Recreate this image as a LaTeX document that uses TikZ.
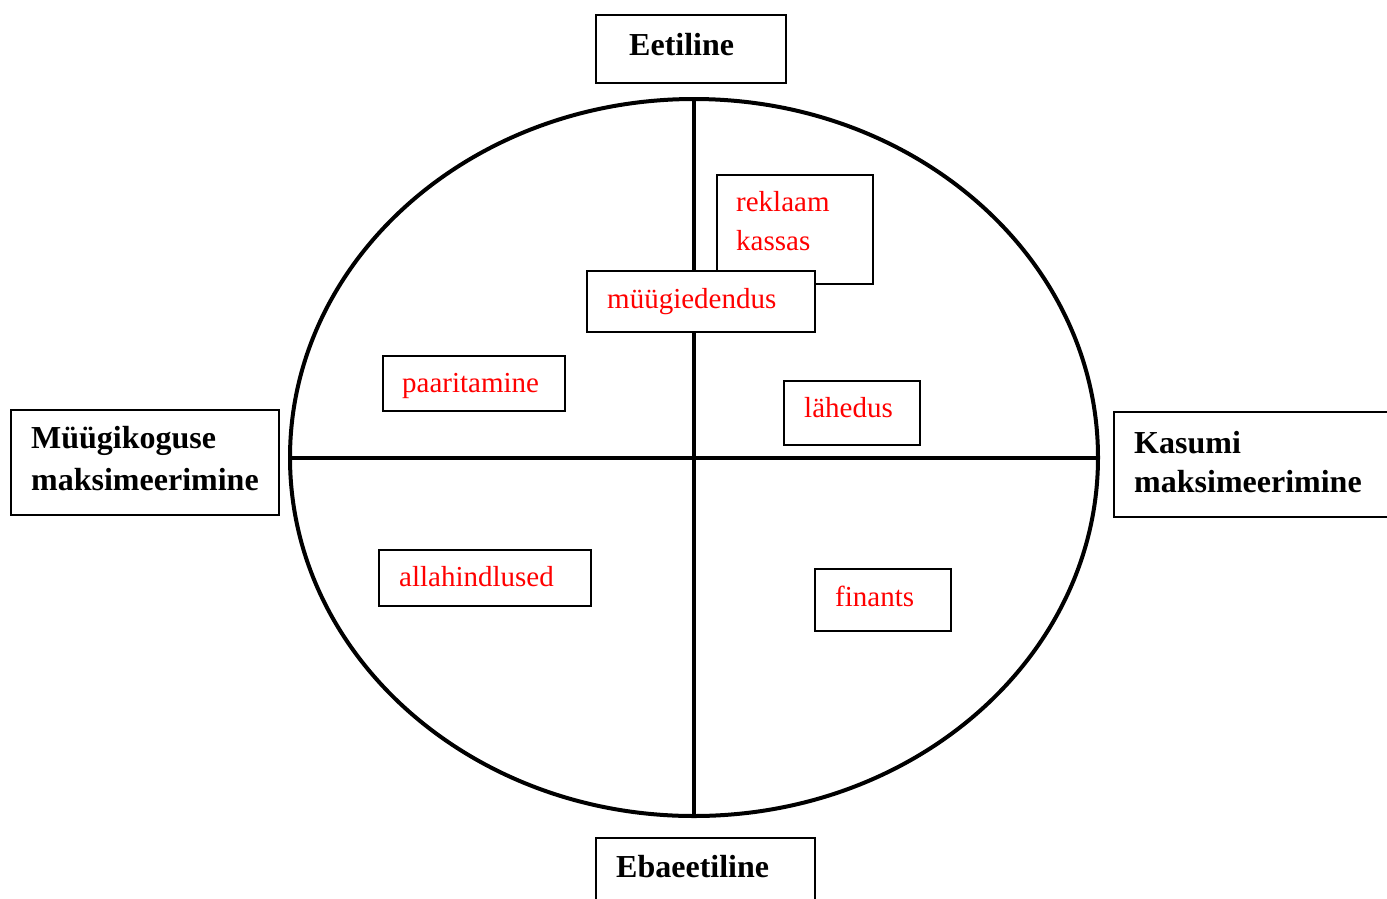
\documentclass[tikz,border=0pt]{standalone}
\usepackage{fontspec}
\setmainfont{Liberation Serif}
\usetikzlibrary{shapes.geometric}
\begin{document}
\begin{tikzpicture}[x=1pt,y=-1pt,
  heavy/.style={line width=4pt},
  box/.style={draw, line width=1.8pt, fill=white, inner sep=0pt, anchor=north west},
  btxt/.style={inner sep=0pt, anchor=base west, font=\fontsize{32}{41}\selectfont\bfseries},
  rtxt/.style={inner sep=0pt, anchor=base west, text=red, font=\fontsize{29}{38}\selectfont}]
\useasboundingbox (0,0) rectangle (1387,898);
\clip (0,0) rectangle (1387,898);
% circle and cross
\node[heavy, draw, ellipse, minimum width=808pt, minimum height=717pt, inner sep=0pt] (oval) at (694,457.5) {};
\coordinate (top) at (694,99);
\coordinate (bot) at (694,816);
\coordinate (lft) at (290,458);
\coordinate (rgt) at (1098,458);
\draw[heavy] (top) -- (bot);
\draw[heavy] (lft) -- (rgt);
% outer boxes
\node[box, minimum width=190pt, minimum height=68pt] (eet) at (595,14) {};
\node[btxt] (eett) at (629,55) {Eetiline};
\node[box, minimum width=219pt, minimum height=80pt] (ebe) at (595,837) {};
\node[btxt] (ebet) at (616,877) {Ebaeetiline};
\node[box, minimum width=268pt, minimum height=105pt] (mk) at (10,409) {};
\node[btxt] (mk1) at (31,448) {Müügikoguse};
\node[btxt] (mk2) at (31,490) {maksimeerimine};
\node[box, minimum width=300pt, minimum height=105pt] (ks) at (1113,411) {};
\node[btxt] (ks1) at (1134,453) {Kasumi};
\node[btxt] (ks2) at (1134,492) {maksimeerimine};
% inner boxes
\node[box, minimum width=156pt, minimum height=109pt] (rk) at (716,174) {};
\node[rtxt] (rk1) at (736,211) {reklaam};
\node[rtxt] (rk2) at (736,250) {kassas};
\node[box, minimum width=228pt, minimum height=61pt] (md) at (586,270) {};
\node[rtxt] (mdt) at (607,308) {müügiedendus};
\node[box, minimum width=182pt, minimum height=55pt] (pa) at (382,355) {};
\node[rtxt] (pat) at (402,392) {paaritamine};
\node[box, minimum width=136pt, minimum height=64pt] (la) at (783,380) {};
\node[rtxt] (lat) at (804,417) {lähedus};
\node[box, minimum width=212pt, minimum height=56pt] (al) at (378,549) {};
\node[rtxt] (alt) at (399,586) {allahindlused};
\node[box, minimum width=136pt, minimum height=62pt] (fi) at (814,568) {};
\node[rtxt] (fit) at (835,606) {finants};
\end{tikzpicture}
\end{document}
